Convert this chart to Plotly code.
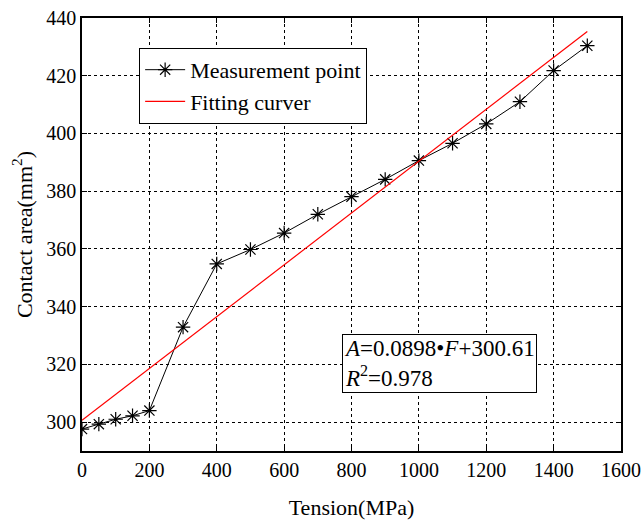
import plotly.graph_objects as go

# Measured contact area under tension
tension = [0, 50, 100, 150, 200, 300, 400, 500, 600, 700, 800, 900, 1000, 1100, 1200, 1300, 1400, 1500]
area = [297.6, 299.3, 301.0, 302.2, 304.0, 332.9, 354.8, 359.8, 365.5, 372.0, 378.1, 384.1, 390.6, 396.6, 403.3, 411.0, 421.8, 430.4]

# Linear fit A = k*F + b
slope = 0.0898
intercept = 300.61
fit_x = [0, 1500]
fit_y = [slope * f + intercept for f in fit_x]

x_ticks = [0, 200, 400, 600, 800, 1000, 1200, 1400, 1600]
y_ticks = [300, 320, 340, 360, 380, 400, 420, 440]

FONT = "Liberation Serif"

fig = go.Figure()
fig.add_trace(go.Scatter(
    x=tension, y=area, mode="lines+markers", name="Measurement point",
    line=dict(color="black", width=1),
    marker=dict(symbol="asterisk-open", size=12, color="black",
                line=dict(color="black", width=1.2)),
))
fig.add_trace(go.Scatter(
    x=fit_x, y=fit_y, mode="lines", name="Fitting curver",
    line=dict(color="red", width=1.2),
))

fig.update_xaxes(
    range=[0, 1600], tickvals=x_ticks, automargin=False,
    showline=True, linecolor="black", linewidth=1.5, mirror="ticks",
    ticks="inside", ticklen=5, tickcolor="black",
    showgrid=True, gridcolor="black", gridwidth=1, griddash="3px,3px", zeroline=False,
    tickfont=dict(family=FONT, size=20, color="black"),
    title=dict(text="Tension(MPa)", font=dict(family=FONT, size=22, color="black"), standoff=22),
)
fig.update_yaxes(
    range=[290, 440], tickvals=y_ticks, automargin=False,
    showline=True, linecolor="black", linewidth=1.5, mirror="ticks",
    ticks="inside", ticklen=5, tickcolor="black",
    showgrid=True, gridcolor="black", gridwidth=1, griddash="3px,3px", zeroline=False,
    tickfont=dict(family=FONT, size=20, color="black"),
    title=dict(text="Contact area(mm<sup>2</sup>)", font=dict(family=FONT, size=22, color="black"), standoff=8),
)

fig.add_annotation(
    xref="x", yref="y", x=772, y=330.5, xanchor="left", yanchor="top",
    text="<i>A</i>=0.0898•<i>F</i>+300.61<br><i>R</i><sup>2</sup>=0.978",
    showarrow=False, align="left",
    font=dict(family=FONT, size=23, color="black"),
    bordercolor="black", borderwidth=1, borderpad=1, bgcolor="white",
)

fig.update_layout(
    width=644, height=520,
    margin=dict(l=82, r=23, t=18, b=69, autoexpand=False),
    plot_bgcolor="white", paper_bgcolor="white",
    legend=dict(x=0.106, y=0.931, xanchor="left", yanchor="top",
                bgcolor="white", bordercolor="black", borderwidth=1,
                font=dict(family=FONT, size=22, color="black"),
                tracegroupgap=0, itemwidth=40),
)

fig.write_html("out.html")
